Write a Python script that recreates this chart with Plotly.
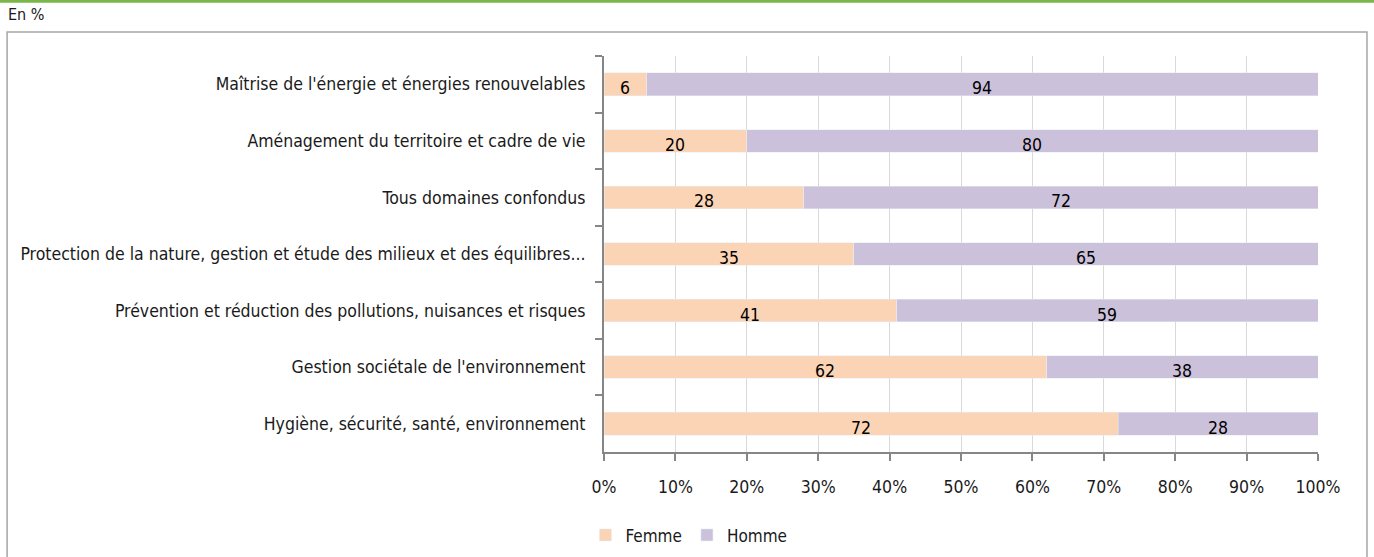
import plotly.graph_objects as go

categories = [
    "Maîtrise de l'énergie et énergies renouvelables",
    "Aménagement du territoire et cadre de vie",
    "Tous domaines confondus",
    "Protection de la nature, gestion et étude des milieux et des équilibres...",
    "Prévention et réduction des pollutions, nuisances et risques",
    "Gestion sociétale de l'environnement",
    "Hygiène, sécurité, santé, environnement",
]
femme = [6, 20, 28, 35, 41, 62, 72]
homme = [94, 80, 72, 65, 59, 38, 28]
x_ticks = [0, 10, 20, 30, 40, 50, 60, 70, 80, 90, 100]
x_labels = ["0%", "10%", "20%", "30%", "40%", "50%", "60%", "70%", "80%", "90%", "100%"]

FONT = "DejaVu Sans Condensed, Liberation Sans Narrow, sans-serif"

fig = go.Figure()
fig.add_trace(go.Bar(y=categories, x=femme, name="Femme", orientation="h",
                     marker_color="#FAD4B4"))
fig.add_trace(go.Bar(y=categories, x=homme, name="Homme", orientation="h",
                     marker_color="#CBC1DA"))

# value labels, centred on each segment and nudged slightly down like the original
labels = []
for cat, f, h in zip(categories, femme, homme):
    labels.append(dict(x=f / 2, y=cat, text=str(f), showarrow=False, yshift=-4,
                       xref="x", yref="y", font=dict(size=17.5, color="black")))
    labels.append(dict(x=f + h / 2, y=cat, text=str(h), showarrow=False, yshift=-4,
                       xref="x", yref="y", font=dict(size=17.5, color="black")))

fig.update_layout(
    barmode="stack", bargap=0.6,
    width=1374, height=557,
    margin=dict(l=604, r=56, t=56, b=105, autoexpand=False),
    plot_bgcolor="white", paper_bgcolor="white",
    font=dict(family=FONT, size=17.5, color="#1a1a1a"),
    showlegend=True,
    legend=dict(orientation="h", x=-0.026, y=-0.165, xanchor="left", yanchor="top",
                font=dict(size=17), traceorder="normal", itemwidth=30),
    xaxis=dict(range=[0, 100], tickvals=x_ticks, ticktext=x_labels,
               showgrid=True, gridcolor="#D9D9D9", gridwidth=1,
               showline=True, linecolor="#868686", linewidth=2,
               ticks="outside", ticklen=7, tickcolor="#868686", tickwidth=2,
               ticklabelstandoff=11, zeroline=False, automargin=False),
    yaxis=dict(autorange="reversed", showgrid=False,
               showline=True, linecolor="#868686", linewidth=2,
               ticks="outside", ticklen=7, tickcolor="#868686", tickwidth=2,
               tickson="boundaries", ticklabelstandoff=13, automargin=False),
    shapes=[
        dict(type="rect", xref="paper", yref="paper",
             x0=-0.836, x1=1.0686, y0=-0.3, y1=1.0606,
             line=dict(color="#A6A6A6", width=1.5), layer="below"),
        dict(type="line", xref="paper", yref="paper",
             x0=-0.846, x1=1.079, y0=1.138, y1=1.138,
             line=dict(color="#7AB648", width=3)),
    ],
    annotations=labels + [
        dict(text="En %", xref="paper", yref="paper", x=-0.837, y=1.105,
             xanchor="left", yanchor="middle", showarrow=False,
             font=dict(size=16, color="#1a1a1a")),
    ],
)

fig.write_html("out.html", config={"displayModeBar": False},
               post_script="document.body.style.margin='0px';")
